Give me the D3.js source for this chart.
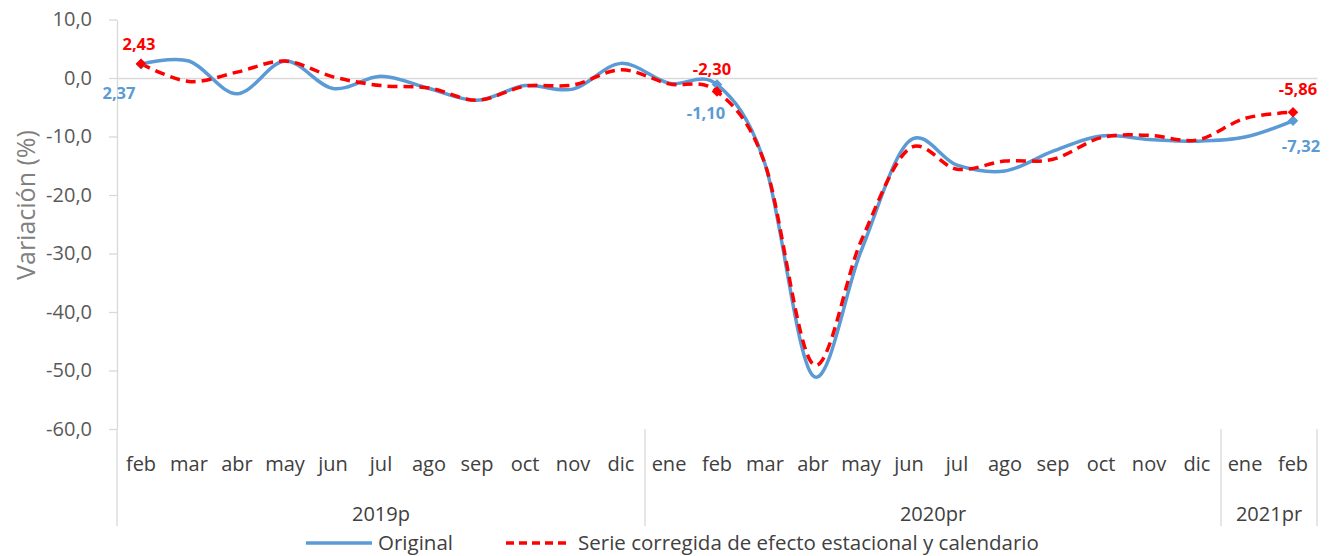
<!DOCTYPE html>
<html>
<head>
<meta charset="utf-8">
<script src="https://cdn.jsdelivr.net/npm/d3@7"></script>
<style>
  body { margin: 0; background: #fff; }
  svg { display: block; font-family: "Open Sans", "Noto Sans", sans-serif; }
</style>
</head>
<body>
<svg id="chart"></svg>
<script>
const months = ["feb","mar","abr","may","jun","jul","ago","sep","oct","nov","dic",
  "ene","feb","mar","abr","may","jun","jul","ago","sep","oct","nov","dic",
  "ene","feb"];
const yearLabels = ["2019p", "2020pr", "2021pr"];
const yearSpans = [11, 12, 2];
const yTicks = [10, 0, -10, -20, -30, -40, -50, -60];

const original = [2.37, 2.9, -2.7, 2.9, -1.8, 0.3, -1.8, -3.8, -1.3, -1.9, 2.5,
  -0.9, -1.10, -14.7, -50.9, -29.6, -10.8, -14.9, -15.9, -12.5, -9.9, -10.5, -10.8,
  -10.1, -7.32];
const corrected = [2.43, -0.6, 1.0, 2.9, 0.2, -1.3, -1.7, -3.8, -1.4, -1.2, 1.4,
  -1.0, -2.30, -14.7, -48.9, -27.9, -12.1, -15.6, -14.2, -13.9, -10.2, -9.8, -10.6,
  -6.9, -5.86];
const labelled = [0, 12, 24];

const W = 1332, H = 556;
const svg = d3.select('#chart').attr('width', W).attr('height', H);

const plotLeft = 117, plotRight = 1317, plotTop = 19.5, plotBottom = 429;
const es = d3.formatLocale({decimal: ',', thousands: '.', grouping: [3], currency: ['', ' €'], minus: '-'});
const fmt = es.format('.1f');
const fmt2 = es.format('.2f');

const xScale = d3.scaleBand()
  .domain(d3.range(months.length))
  .range([plotLeft, plotRight]);
const cx = i => xScale(i) + xScale.bandwidth() / 2;

const yScale = d3.scaleLinear()
  .domain([-60, 10])
  .range([plotBottom, plotTop]);

// eje y
const yAxis = svg.append('g')
  .attr('transform', `translate(${plotLeft},0)`)
  .call(d3.axisLeft(yScale).tickValues(yTicks).tickFormat(fmt).tickSize(8).tickSizeOuter(0));
yAxis.select('.domain').attr('stroke', '#d9d9d9').attr('stroke-width', 1.3);
yAxis.selectAll('.tick line').attr('stroke', '#d9d9d9').attr('stroke-width', 1.3);
yAxis.selectAll('.tick text')
  .attr('x', -25)
  .attr('font-size', 20)
  .attr('font-family', '"Open Sans", sans-serif')
  .attr('fill', '#595959');

// linea del cero
svg.append('g')
  .attr('transform', `translate(0,${yScale(0)})`)
  .call(d3.axisBottom(xScale).tickSize(0).tickFormat(''))
  .call(g => g.select('.domain').attr('stroke', '#d9d9d9').attr('stroke-width', 1.3));

// meses
const mAxis = svg.append('g')
  .attr('transform', `translate(0,${plotBottom})`)
  .call(d3.axisBottom(xScale).tickSize(0).tickFormat(i => months[i]));
mAxis.select('.domain').remove();
mAxis.selectAll('.tick text')
  .attr('y', 28)
  .attr('dy', '0.71em')
  .attr('font-size', 20)
  .attr('font-family', '"Open Sans", sans-serif')
  .attr('fill', '#404040');

// separadores de año
let bounds = [0];
yearSpans.forEach(s => bounds.push(bounds[bounds.length - 1] + s));
const bx = k => k < months.length ? xScale(k) : plotRight;
svg.append('g').selectAll('line')
  .data(bounds)
  .join('line')
  .attr('x1', k => bx(k)).attr('x2', k => bx(k))
  .attr('y1', plotBottom).attr('y2', 526)
  .attr('stroke', '#d9d9d9').attr('stroke-width', 1.3);

svg.append('g').selectAll('text')
  .data(yearLabels)
  .join('text')
  .attr('x', (d, i) => (bx(bounds[i]) + bx(bounds[i + 1])) / 2)
  .attr('y', 521)
  .attr('text-anchor', 'middle')
  .attr('font-size', 20)
  .attr('fill', '#404040')
  .text(d => d);

// titulo eje y
svg.append('text')
  .attr('transform', 'translate(35,205) rotate(-90)')
  .attr('text-anchor', 'middle')
  .attr('font-size', 25)
  .attr('fill', '#808080')
  .text('Variación (%)');

// lineas
const line = data => d3.line()
  .x((d, i) => cx(i))
  .y(d => yScale(d))
  .curve(d3.curveCatmullRom.alpha(0))(data);

svg.append('path')
  .attr('d', line(original))
  .attr('fill', 'none')
  .attr('stroke', '#5b9bd5')
  .attr('stroke-width', 3.5)
  .attr('stroke-linejoin', 'round');

svg.append('path')
  .attr('d', line(corrected))
  .attr('fill', 'none')
  .attr('stroke', '#ff0000')
  .attr('stroke-width', 3.5)
  .attr('stroke-dasharray', '10,6');

const diamond = d3.symbol().type(d3.symbolSquare).size(56);

svg.append('g').selectAll('path')
  .data(labelled)
  .join('path')
  .attr('d', diamond)
  .attr('transform', i => `translate(${cx(i)},${yScale(original[i])}) rotate(45)`)
  .attr('fill', '#5b9bd5');

svg.append('g').selectAll('path')
  .data(labelled)
  .join('path')
  .attr('d', diamond)
  .attr('transform', i => `translate(${cx(i)},${yScale(corrected[i])}) rotate(45)`)
  .attr('fill', '#ff0000');

// etiquetas
const redShift = [[-2, -20], [-5, -22], [5, -23]];
const blueShift = [[-22, 29], [-11, 29], [8, 25]];

svg.append('g').selectAll('text')
  .data(labelled)
  .join('text')
  .attr('x', (i, k) => cx(i) + redShift[k][0])
  .attr('y', (i, k) => yScale(corrected[i]) + redShift[k][1])
  .attr('dy', '0.35em')
  .attr('text-anchor', 'middle')
  .attr('font-size', 16.5)
  .attr('font-weight', 'bold')
  .attr('fill', '#ff0000')
  .text(i => fmt2(corrected[i]));

svg.append('g').selectAll('text')
  .data(labelled)
  .join('text')
  .attr('x', (i, k) => cx(i) + blueShift[k][0])
  .attr('y', (i, k) => yScale(original[i]) + blueShift[k][1])
  .attr('dy', '0.35em')
  .attr('text-anchor', 'middle')
  .attr('font-size', 16.5)
  .attr('font-weight', 'bold')
  .attr('fill', '#5b9bd5')
  .text(i => fmt2(original[i]));

// leyenda
const legend = svg.append('g').attr('transform', 'translate(0,543)');
legend.append('line')
  .attr('x1', 306).attr('x2', 372).attr('y1', 0).attr('y2', 0)
  .attr('stroke', '#5b9bd5').attr('stroke-width', 3.5);
legend.append('text')
  .attr('x', 378).attr('y', 0).attr('dy', '0.32em')
  .attr('font-size', 20.5).attr('fill', '#404040')
  .text('Original');
legend.append('line')
  .attr('x1', 506).attr('x2', 571).attr('y1', 0).attr('y2', 0)
  .attr('stroke', '#ff0000').attr('stroke-width', 3.5)
  .attr('stroke-dasharray', '8,5');
legend.append('text')
  .attr('x', 578).attr('y', 0).attr('dy', '0.32em')
  .attr('font-size', 20.5).attr('fill', '#404040')
  .text('Serie corregida de efecto estacional y calendario');
</script>
</body>
</html>
